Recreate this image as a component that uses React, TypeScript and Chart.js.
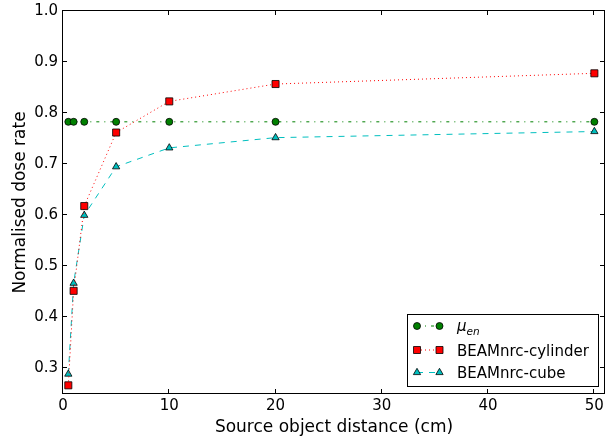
import { useEffect, useRef } from "react";
import { Chart, registerables } from "chart.js";

Chart.register(...registerables);

// ---- data ----
const distances = [0.5, 1, 2, 5, 10, 20, 50];
const muEn = [0.783, 0.783, 0.783, 0.783, 0.783, 0.783, 0.783];
const cylinder = [0.267, 0.452, 0.618, 0.762, 0.823, 0.857, 0.878];
const cube = [0.289, 0.467, 0.6, 0.695, 0.732, 0.752, 0.764];
const xTicks = [0, 10, 20, 30, 40, 50];
const yTicks = [0.3, 0.4, 0.5, 0.6, 0.7, 0.8, 0.9, 1.0];
const xTitle = "Source object distance (cm)";
const yTitle = "Normalised dose rate";
const legendLabels = ["BEAMnrc-cylinder", "BEAMnrc-cube"];

const FONT = '"DejaVu Sans", sans-serif';
const GREEN = "#008000";
const RED = "#FF0000";
const CYAN = "#00BFBF";

function drawMarker(ctx: CanvasRenderingContext2D, kind: string, x: number, y: number, fill: string) {
  ctx.save();
  ctx.fillStyle = fill;
  ctx.strokeStyle = "#000";
  ctx.lineWidth = 0.8;
  ctx.setLineDash([]);
  ctx.beginPath();
  if (kind === "circle") {
    ctx.arc(x, y, 3.5, 0, Math.PI * 2);
  } else if (kind === "rect") {
    ctx.rect(x - 3.5, y - 3.5, 7, 7);
  } else {
    const r = 4.2;
    let a = 0;
    ctx.moveTo(x + Math.sin(a) * r, y - Math.cos(a) * r);
    a += (2 * Math.PI) / 3;
    ctx.lineTo(x + Math.sin(a) * r, y - Math.cos(a) * r);
    a += (2 * Math.PI) / 3;
    ctx.lineTo(x + Math.sin(a) * r, y - Math.cos(a) * r);
    ctx.closePath();
  }
  ctx.fill();
  ctx.stroke();
  ctx.restore();
}

const framePlugin = {
  id: "frame",
  afterDraw(chart: any) {
    const { ctx, chartArea: a, scales } = chart;
    ctx.save();
    ctx.strokeStyle = "#000";
    ctx.lineWidth = 1;
    ctx.setLineDash([]);
    ctx.strokeRect(a.left - 0.5, a.top - 0.5, a.right - a.left, a.bottom - a.top);
    ctx.beginPath();
    for (const v of xTicks) {
      const px = Math.round(scales.x.getPixelForValue(v)) - 0.5;
      ctx.moveTo(px, a.bottom);
      ctx.lineTo(px, a.bottom - 5);
      ctx.moveTo(px, a.top - 1);
      ctx.lineTo(px, a.top + 4);
    }
    for (const v of yTicks) {
      const py = Math.round(scales.y.getPixelForValue(v)) - 0.5;
      ctx.moveTo(a.left - 1, py);
      ctx.lineTo(a.left + 4, py);
      ctx.moveTo(a.right, py);
      ctx.lineTo(a.right - 5, py);
    }
    ctx.stroke();

    // legend
    const bw = 191;
    const bh = 72;
    const bx = a.right - 7 - bw;
    const by = a.bottom - 8 - bh;
    ctx.fillStyle = "#fff";
    ctx.fillRect(bx, by, bw, bh);
    ctx.strokeStyle = "#000";
    ctx.strokeRect(Math.round(bx) + 0.5, Math.round(by) + 0.5, bw, bh);

    const rows = [
      { y: by + 12, color: GREEN, dash: [3, 5, 1, 5], kind: "circle" },
      { y: by + 36, color: RED, dash: [1, 3], kind: "rect" },
      { y: by + 58.5, color: CYAN, dash: [6, 6], kind: "triangle" },
    ];
    const m1 = bx + 10;
    const m2 = bx + 32.5;
    const tx = bx + 50;
    rows.forEach((r, i) => {
      ctx.save();
      ctx.strokeStyle = r.color;
      ctx.lineWidth = 1;
      ctx.setLineDash(r.dash);
      ctx.beginPath();
      ctx.moveTo(m1, r.y);
      ctx.lineTo(m2, r.y);
      ctx.stroke();
      ctx.restore();
      drawMarker(ctx, r.kind, m1, r.y, r.color);
      drawMarker(ctx, r.kind, m2, r.y, r.color);
      ctx.fillStyle = "#000";
      ctx.textAlign = "left";
      ctx.textBaseline = "alphabetic";
      if (i === 0) {
        ctx.font = `italic 15px ${FONT}`;
        ctx.fillText("μ", tx, r.y + 5);
        const w = ctx.measureText("μ").width;
        ctx.font = `italic 10.5px ${FONT}`;
        ctx.fillText("en", tx + w, r.y + 8.5);
      } else {
        ctx.font = `15px ${FONT}`;
        ctx.fillText(legendLabels[i - 1], tx, r.y + 5.5);
      }
    });
    ctx.restore();
  },
};

export default function App() {
  const ref = useRef<HTMLCanvasElement | null>(null);

  useEffect(() => {
    if (!ref.current) return;
    Chart.defaults.font.family = FONT;
    Chart.defaults.color = "#000";
    const toPts = (ys: number[]) => distances.map((x, i) => ({ x, y: ys[i] }));
    const chart = new Chart(ref.current, {
      type: "line",
      data: {
        datasets: [
          {
            label: "mu_en",
            data: toPts(muEn),
            borderColor: GREEN,
            backgroundColor: GREEN,
            borderWidth: 1,
            borderDash: [3, 5, 1, 5],
            pointStyle: "circle",
            pointRadius: 3.5,
            pointBorderColor: "#000",
            pointBorderWidth: 0.8,
            tension: 0,
            order: 2,
          },
          {
            label: legendLabels[0],
            data: toPts(cylinder),
            borderColor: RED,
            backgroundColor: RED,
            borderWidth: 1,
            borderDash: [1, 3],
            pointStyle: "rect",
            pointRadius: 5,
            pointBorderColor: "#000",
            pointBorderWidth: 0.8,
            tension: 0,
            order: 0,
          },
          {
            label: legendLabels[1],
            data: toPts(cube),
            borderColor: CYAN,
            backgroundColor: CYAN,
            borderWidth: 1,
            borderDash: [6, 6],
            pointStyle: "triangle",
            pointRadius: 4.2,
            pointBorderColor: "#000",
            pointBorderWidth: 0.8,
            tension: 0,
            order: 1,
          },
        ],
      },
      options: {
        responsive: false,
        animation: false,
        events: [],
        layout: { autoPadding: false, padding: { top: 11, left: 0, right: 0, bottom: 0 } },
        plugins: { legend: { display: false }, tooltip: { enabled: false } },
        scales: {
          x: {
            type: "linear",
            min: 0,
            max: 51,
            grid: { display: false, drawTicks: false },
            border: { display: false },
            ticks: {
              padding: 3,
              font: { size: 15 },
              color: "#000",
              callback: (v: any) => String(v),
            },
            afterBuildTicks: (s: any) => {
              s.ticks = xTicks.map((v) => ({ value: v }));
            },
            afterFit: (s: any) => {
              s.height = 46;
              s.paddingLeft = 0;
              s.paddingRight = 0;
            },
            title: {
              display: true,
              text: xTitle,
              font: { size: 17 },
              color: "#000",
              padding: { top: 0, bottom: 2 },
            },
          },
          y: {
            type: "linear",
            min: 0.25,
            max: 1.0,
            grid: { display: false, drawTicks: false },
            border: { display: false },
            ticks: {
              padding: 5,
              font: { size: 15 },
              color: "#000",
              callback: (v: any) => Number(v).toFixed(1),
            },
            afterBuildTicks: (s: any) => {
              s.ticks = yTicks.map((v) => ({ value: v }));
            },
            afterFit: (s: any) => {
              s.width = 63;
              s.paddingTop = 0;
              s.paddingBottom = 0;
            },
            title: {
              display: true,
              text: yTitle,
              font: { size: 17 },
              color: "#000",
              padding: { top: 10, bottom: 0 },
            },
          },
        },
      },
      plugins: [framePlugin],
    } as any);
    return () => chart.destroy();
  }, []);

  return (
    <div style={{ position: "fixed", left: 0, top: 0, width: 605, height: 440, background: "#fff" }}>
      <canvas ref={ref} width={605} height={440} style={{ display: "block" }} />
    </div>
  );
}
